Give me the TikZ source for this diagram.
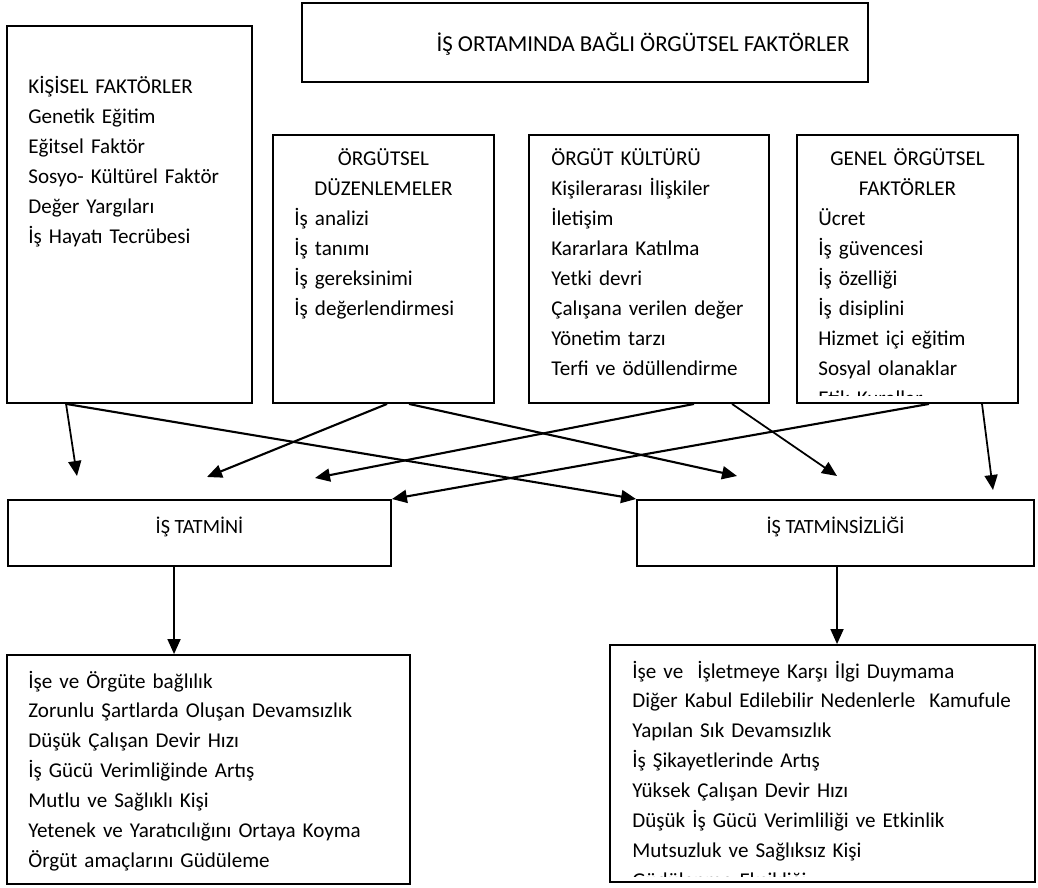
\documentclass[tikz,border=0pt]{standalone}
\usepackage{fontspec}
\setmainfont{Carlito}
\usetikzlibrary{arrows.meta,calc}

\tikzset{
  kutu/.style={draw, rectangle, line width=1.1pt, inner sep=0pt},
  liste/.style={anchor=base west, inner sep=0pt, align=left, text width=8cm,
    font=\fontsize{12}{17.07}\selectfont},
  baslik/.style={anchor=base, inner sep=0pt, align=center, text width=4.4cm,
    font=\fontsize{12}{17.07}\selectfont},
  ok/.style={->, line width=1.2pt},
  ince/.style={->, line width=1pt}
}

\begin{document}
\begin{tikzpicture}[>={Triangle[length=0.3cm,width=0.26cm]}, x=0.02cm, y=-0.02cm,
  font=\fontsize{12}{17.07}\selectfont]
\useasboundingbox (0,0) rectangle (1038,888);

% ust kutular
\node[kutu, minimum width=11.32cm, minimum height=1.58cm] (baslik) at (585,42.5) {};
\node[font=\fontsize{13}{16}\selectfont, inner sep=0pt] (baslikT) at (643,44) {İŞ ORTAMINDA BAĞLI ÖRGÜTSEL FAKTÖRLER};
\node[kutu, minimum width=4.9cm, minimum height=7.54cm] (kisisel) at (129.5,214.5) {};
\node[kutu, minimum width=4.42cm, minimum height=5.36cm] (duzen) at (383.5,269) {};
\node[kutu, minimum width=4.8cm, minimum height=5.36cm] (kultur) at (649,269) {};
\node[kutu, minimum width=4.42cm, minimum height=5.36cm] (genel) at (907.5,269) {};

\node[liste] (kisiselL) at (28,94) {KİŞİSEL FAKTÖRLER\\Genetik Eğitim\\Eğitsel Faktör\\Sosyo- Kültürel Faktör\\Değer Yargıları\\İş Hayatı Tecrübesi};
\node[baslik] (duzenB) at (383.5,166) {ÖRGÜTSEL\\DÜZENLEMELER};
\node[liste] (duzenL) at (294,226) {İş analizi\\İş tanımı\\İş gereksinimi\\İş değerlendirmesi};
\node[liste] (kulturL) at (551,166) {ÖRGÜT KÜLTÜRÜ\\Kişilerarası İlişkiler\\İletişim\\Kararlara Katılma\\Yetki devri\\Çalışana verilen değer\\Yönetim tarzı\\Terfi ve ödüllendirme};
\node[baslik] (genelB) at (907.5,166) {GENEL ÖRGÜTSEL\\FAKTÖRLER};
\begin{scope}
\clip (genel.north west) rectangle ([yshift=0.17cm]genel.south east);
\node[liste] (genelL) at (818,226) {Ücret\\İş güvencesi\\İş özelliği\\İş disiplini\\Hizmet içi eğitim\\Sosyal olanaklar\\Etik Kurallar};
\end{scope}

% orta kutular
\node[kutu, minimum width=7.66cm, minimum height=1.32cm, text height=8pt, text depth=8pt,
  font=\fontsize{11.5}{14}\selectfont] (tatmin) at (199.5,533) {İŞ TATMİNİ};
\node[kutu, minimum width=7.94cm, minimum height=1.32cm, text height=8pt, text depth=8pt,
  font=\fontsize{11.5}{14}\selectfont] (tatminsiz) at (835.5,533) {İŞ TATMİNSİZLİĞİ};

% alt kutular
\node[kutu, minimum width=8.06cm, minimum height=4.58cm] (sonucA) at (208.5,769.5) {};
\node[kutu, minimum width=8.5cm, minimum height=4.74cm] (sonucB) at (822.5,763.5) {};
\node[liste] (sonucAL) at (28,688) {İşe ve Örgüte bağlılık\\Zorunlu Şartlarda Oluşan Devamsızlık\\Düşük Çalışan Devir Hızı\\İş Gücü Verimliğinde Artış\\Mutlu ve Sağlıklı Kişi\\Yetenek ve Yaratıcılığını Ortaya Koyma\\Örgüt amaçlarını Güdüleme};
\begin{scope}
\clip (sonucB.north west) rectangle ([yshift=0.12cm]sonucB.south east);
\node[liste] (sonucBL) at (632,678) {İşe ve\ \ İşletmeye Karşı İlgi Duymama\\Diğer Kabul Edilebilir Nedenlerle\ \ Kamufule\\Yapılan Sık Devamsızlık\\İş Şikayetlerinde Artış\\Yüksek Çalışan Devir Hızı\\Düşük İş Gücü Verimliliği ve Etkinlik\\Mutsuzluk ve Sağlıksız Kişi\\Güdülenme Eksikliği};
\end{scope}

% uc noktalar
\coordinate (u1) at (77,476);
\coordinate (u2) at (207,477);
\coordinate (u3) at (737,476);
\coordinate (u4) at (315,478);
\coordinate (u5) at (837,476);
\coordinate (u6) at (993,490);

\draw[ince] ([xshift=1.2cm]kisisel.south west) -- (u1);
\draw[ok] ([xshift=1.2cm]kisisel.south west) -- (tatminsiz.north west);
\draw[ok] ([xshift=2.3cm]duzen.south west) -- (u2);
\draw[ok] ([xshift=2.74cm]duzen.south west) -- (u3);
\draw[ok] ([xshift=3.32cm]kultur.south west) -- (u4);
\draw[ince] ([xshift=4.08cm]kultur.south west) -- (u5);
\draw[ok] ([xshift=2.66cm]genel.south west) -- (tatmin.north east);
\draw[ince] ([xshift=3.72cm]genel.south west) -- (u6);

\draw[ince] ([xshift=3.34cm]tatmin.south west) -- ([xshift=3.36cm]sonucA.north west);
\draw[ince] ([xshift=4.02cm]tatminsiz.south west) -- ([xshift=4.56cm]sonucB.north west);
\end{tikzpicture}
\end{document}
